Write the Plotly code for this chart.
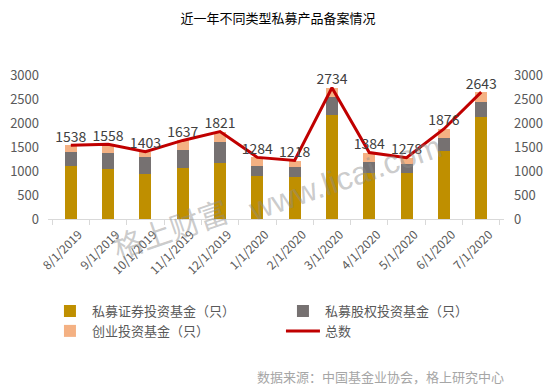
import plotly.graph_objects as go

categories = ["8/1/2019", "9/1/2019", "10/1/2019", "11/1/2019", "12/1/2019", "1/1/2020",
              "2/1/2020", "3/1/2020", "4/1/2020", "5/1/2020", "6/1/2020", "7/1/2020"]
securities = [1110, 1050, 945, 1070, 1167, 903, 882, 2174, 951, 965, 1424, 2125]
equity = [290, 325, 355, 375, 444, 208, 208, 367, 243, 188, 270, 319]
venture = [138, 183, 103, 192, 210, 173, 128, 193, 190, 125, 182, 199]
totals = [1538, 1558, 1403, 1637, 1821, 1284, 1218, 2734, 1384, 1278, 1876, 2643]
y_ticks = [0, 500, 1000, 1500, 2000, 2500, 3000]

FONT = "Noto Sans CJK SC"

fig = go.Figure()
fig.add_trace(go.Bar(x=categories, y=securities, name="私募证券投资基金（只）",
                     marker=dict(color="#BF8F00", line=dict(width=0))))
fig.add_trace(go.Bar(x=categories, y=equity, name="私募股权投资基金（只）",
                     marker=dict(color="#767171", line=dict(width=0))))
fig.add_trace(go.Bar(x=categories, y=venture, name="创业投资基金（只）",
                     marker=dict(color="#F4B183", line=dict(width=0))))
fig.add_trace(go.Scatter(x=categories, y=totals, name="总数", mode="lines+text",
                         line=dict(color="#C00000", width=3),
                         text=[str(v) for v in totals], textposition="top center",
                         textfont=dict(size=14, color="#404040", family=FONT),
                         yaxis="y2", cliponaxis=False))

fig.update_layout(
    width=556, height=388,
    barmode="stack", bargap=0.68,
    paper_bgcolor="white", plot_bgcolor="white",
    font=dict(family=FONT, color="#595959", size=12),
    margin=dict(l=48, r=52, t=75, b=169, autoexpand=False),
    title=dict(text="近一年不同类型私募产品备案情况", x=0.5, xanchor="center",
               y=0.953, yanchor="middle", font=dict(size=13, color="#000000", family=FONT)),
    xaxis=dict(type="category", tickangle=-45, tickfont=dict(size=12, color="#595959"),
               showline=True, linecolor="#D9D9D9", linewidth=1,
               ticks="outside", tickson="boundaries", ticklen=5, tickcolor="#D9D9D9",
               showgrid=False, automargin=False, ticklabelstandoff=3,
               ticklabelshift=8),
    yaxis=dict(range=[0, 3000], tickvals=y_ticks, showgrid=False, zeroline=False,
               showline=False, tickfont=dict(size=13, color="#595959"), ticks="",
               automargin=False, ticklabelstandoff=8),
    yaxis2=dict(range=[0, 3000], tickvals=y_ticks, overlaying="y", side="right",
                showgrid=False, zeroline=False, showline=False,
                tickfont=dict(size=13, color="#595959"), ticks="", automargin=False,
                ticklabelstandoff=9),
    legend=dict(orientation="h", x=-0.0001, xanchor="left", y=-0.535, yanchor="top",
                entrywidth=184, traceorder="normal", bgcolor="rgba(0,0,0,0)",
                font=dict(size=13, color="#595959", family=FONT), itemwidth=34),
    showlegend=True,
)

fig.add_annotation(text="数据来源：中国基金业协会，格上研究中心", xref="paper", yref="paper",
                   x=1.005, xanchor="right", y=-1.097, yanchor="middle", showarrow=False,
                   font=dict(size=13, color="#A6A6A6", family=FONT))
# watermark, in two parts
fig.add_annotation(text="格上财富", xref="paper", yref="paper",
                   x=0.2675, y=-0.0625, xanchor="center", yanchor="middle", showarrow=False,
                   textangle=-19,
                   font=dict(size=30, color="rgba(140,140,140,0.45)", family=FONT))
fig.add_annotation(text="www.licai.com", xref="paper", yref="paper",
                   x=0.651, y=0.285, xanchor="center", yanchor="middle", showarrow=False,
                   textangle=-19,
                   font=dict(size=32, color="rgba(140,140,140,0.45)", family="Liberation Sans"))

fig.write_html("out.html", config={"displayModeBar": False},
               post_script="document.body.style.margin='0';")
